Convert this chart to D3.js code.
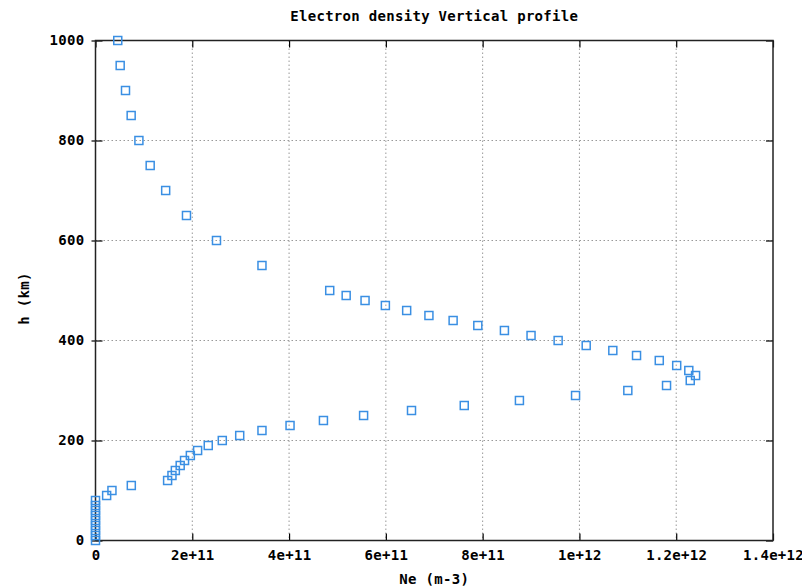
<!DOCTYPE html>
<html><head><meta charset="utf-8">
<script src="https://cdn.jsdelivr.net/npm/d3@7"></script>
<style>
body{margin:0;background:#fff;}
text{font-family:"DejaVu Sans Mono","Liberation Mono",monospace;font-weight:bold;fill:#000;}
</style></head>
<body><svg id="c" width="802" height="587"></svg>
<script>
const title = "Electron density Vertical profile";
const xLabel = "Ne (m-3)";
const yLabel = "h (km)";
const xTicks = [0, 2e11, 4e11, 6e11, 8e11, 1e12, 1.2e12, 1.4e12];
const xTickLabels = ["0", "2e+11", "4e+11", "6e+11", "8e+11", "1e+12", "1.2e+12", "1.4e+12"];
const yTicks = [0, 200, 400, 600, 800, 1000];
const yTickLabels = ["0", "200", "400", "600", "800", "1000"];
const heights = [0,10,20,30,40,50,60,70,80,90,100,110,120,130,140,150,160,170,180,190,200,210,220,230,240,250,260,270,280,290,300,310,320,330,340,350,360,370,380,390,400,410,420,430,440,450,460,470,480,490,500,550,600,650,700,750,800,850,900,950,1000];
const density = [0,0,0,0,0,0,0,0,0,2.3e10,3.4e10,7.4e10,1.49e11,1.58e11,1.65e11,1.75e11,1.84e11,1.96e11,2.11e11,2.33e11,2.62e11,2.98e11,3.44e11,4.02e11,4.71e11,5.54e11,6.53e11,7.62e11,8.76e11,9.92e11,1.10e12,1.18e12,1.229e12,1.240e12,1.226e12,1.201e12,1.165e12,1.118e12,1.069e12,1.014e12,9.56e11,9.0e11,8.45e11,7.90e11,7.39e11,6.89e11,6.43e11,5.99e11,5.57e11,5.18e11,4.84e11,3.44e11,2.50e11,1.88e11,1.45e11,1.13e11,8.97e10,7.37e10,6.2e10,5.1e10,4.6e10];

const svg = d3.select("#c");
const L = 95.5, R = 773, T = 40.5, B = 540.5;
const x = d3.scaleLinear().domain([0, 1.4e12]).range([L, R]);
const y = d3.scaleLinear().domain([0, 1000]).range([B, T]);
const FONT = "'DejaVu Sans Mono','Liberation Mono',monospace";

// grid
const g = svg.append("g");
g.selectAll(".vg").data(xTicks.slice(1, -1)).enter().append("line")
  .attr("x1", d => x(d)).attr("x2", d => x(d)).attr("y1", T).attr("y2", B)
  .attr("stroke", "#999").attr("stroke-width", 1).attr("stroke-dasharray", "1.5,2.5");
g.selectAll(".hg").data(yTicks.slice(1, -1)).enter().append("line")
  .attr("y1", d => y(d)).attr("y2", d => y(d)).attr("x1", L).attr("x2", R)
  .attr("stroke", "#999").attr("stroke-width", 1).attr("stroke-dasharray", "1.5,2.5");

// axes
const ax = svg.append("g").attr("transform", `translate(0,${B})`)
  .call(d3.axisBottom(x).tickValues(xTicks).tickFormat((d, i) => xTickLabels[i]).tickSizeInner(-7).tickSizeOuter(0).tickPadding(12));
const axT = svg.append("g").attr("transform", `translate(0,${T})`)
  .call(d3.axisTop(x).tickValues(xTicks).tickFormat("").tickSizeInner(-7).tickSizeOuter(0));
const ay = svg.append("g").attr("transform", `translate(${L},0)`)
  .call(d3.axisLeft(y).tickValues(yTicks).tickFormat((d, i) => yTickLabels[i]).tickSizeInner(-7).tickSizeOuter(0).tickPadding(11));
const ayR = svg.append("g").attr("transform", `translate(${R},0)`)
  .call(d3.axisRight(y).tickValues(yTicks).tickFormat("").tickSizeInner(-7).tickSizeOuter(0));
[ax, axT, ay, ayR].forEach(a => {
  a.select(".domain").remove();
  a.selectAll("line").attr("stroke", "#000").attr("stroke-width", 1.2);
  a.selectAll("text").attr("font-size", "14px").attr("letter-spacing", "0.3px")
    .attr("font-family", FONT).attr("font-weight", "bold").attr("fill", "#000");
});
ax.selectAll("text").attr("dy", "0.5em");
ay.selectAll(".tick").append("line").attr("x1", 0).attr("x2", -4).attr("stroke", "#000").attr("stroke-width", 1.2);

// frame
svg.append("rect").attr("x", L).attr("y", T).attr("width", R - L).attr("height", B - T)
  .attr("fill", "none").attr("stroke", "#222").attr("stroke-width", 1.5);

// points
const pts = heights.map((h, i) => ({h, n: density[i]}));
svg.append("g").selectAll("rect").data(pts).enter().append("rect")
  .attr("x", d => x(d.n) - 4).attr("y", d => y(d.h) - 4)
  .attr("width", 8).attr("height", 8)
  .attr("fill", "none").attr("stroke", "#3a8fe3").attr("stroke-width", 1.5);

// titles
svg.append("text").attr("x", (L + R) / 2).attr("y", 21).attr("text-anchor", "middle")
  .attr("font-size", "14px").attr("letter-spacing", "0.3px").text(title);
svg.append("text").attr("x", (L + R) / 2).attr("y", 584).attr("text-anchor", "middle")
  .attr("font-size", "14px").attr("letter-spacing", "0.3px").text(xLabel);
svg.append("text").attr("transform", `translate(29,${(T + B) / 2 + 8}) rotate(-90)`).attr("text-anchor", "middle")
  .attr("font-size", "14px").attr("letter-spacing", "0.3px").text(yLabel);
</script></body></html>
